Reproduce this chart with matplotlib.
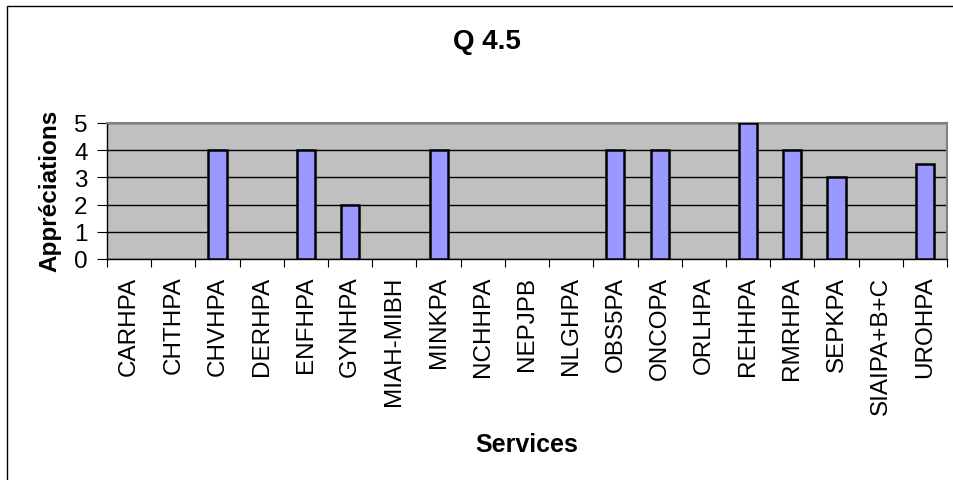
import numpy as np
import matplotlib.pyplot as plt
from matplotlib.patches import Rectangle

plt.rcParams['font.family'] = ['Liberation Sans', 'DejaVu Sans']

# data
services = ['CARHPA', 'CHTHPA', 'CHVHPA', 'DERHPA', 'ENFHPA', 'GYNHPA',
            'MIAH-MIBH', 'MINKPA', 'NCHHPA', 'NEPJPB', 'NLGHPA', 'OBS5PA',
            'ONCOPA', 'ORLHPA', 'REHHPA', 'RMRHPA', 'SEPKPA', 'SIAIPA+B+C',
            'UROHPA']
scores = [0, 0, 4, 0, 4, 2, 0, 4, 0, 0, 0, 4, 4, 0, 5, 4, 3, 0, 3.5]
yticks = [0, 1, 2, 3, 4, 5]

fig = plt.figure(figsize=(9.54, 4.81), dpi=100)
# chart border (only top and left visible)
fig.patches.append(Rectangle((7/954, -0.1), 1.2, 1 - 7/481 + 0.1,
                             transform=fig.transFigure, fill=False,
                             edgecolor='black', lw=1.0))

ax = fig.add_axes([107/954, 1 - 260/481, 840/954, 136/481])
ax.set_facecolor('#C0C0C0')

x = np.arange(len(services))
# empty bars leave no outline
edges = [1.8 if v > 0 else 0 for v in scores]
ax.bar(x, scores, width=0.41, color='#9999FF', edgecolor='black', lw=edges,
       zorder=3)

ax.set_xlim(-0.5, len(services) - 0.5)
ax.set_ylim(0, 5)
ax.set_yticks(yticks)
ax.yaxis.grid(True, color='black', lw=1.0, zorder=1)
ax.set_axisbelow(True)

# ticks between categories, labels at centres
ax.set_xticks(np.arange(-0.5, len(services)), minor=False)
ax.set_xticklabels([])
ax.set_xticks(x, minor=True)
ax.set_xticklabels(services, minor=True, rotation=90, fontsize=17.5)
ax.tick_params(axis='x', which='minor', length=0, pad=12)
ax.tick_params(axis='x', which='major', length=6, direction='out')
ax.tick_params(axis='y', length=7, direction='out', labelsize=17.5, pad=7)

for s in ['top', 'right']:
    ax.spines[s].set_color('#808080')
    ax.spines[s].set_linewidth(1.5)
for s in ['left', 'bottom']:
    ax.spines[s].set_color('black')
    ax.spines[s].set_linewidth(1.0)

fig.text(50/954, 1 - 191/481, 'Appréciations', fontsize=17.5,
         fontweight='bold', rotation=90, ha='center', va='center')
fig.text(527/954, 1 - 445/481, 'Services', fontsize=18, fontweight='bold',
         ha='center', va='center')
fig.text(487/954, 1 - 42/481, 'Q 4.5', fontsize=20, fontweight='bold',
         ha='center', va='center')

fig.savefig('out.png', dpi=100)
